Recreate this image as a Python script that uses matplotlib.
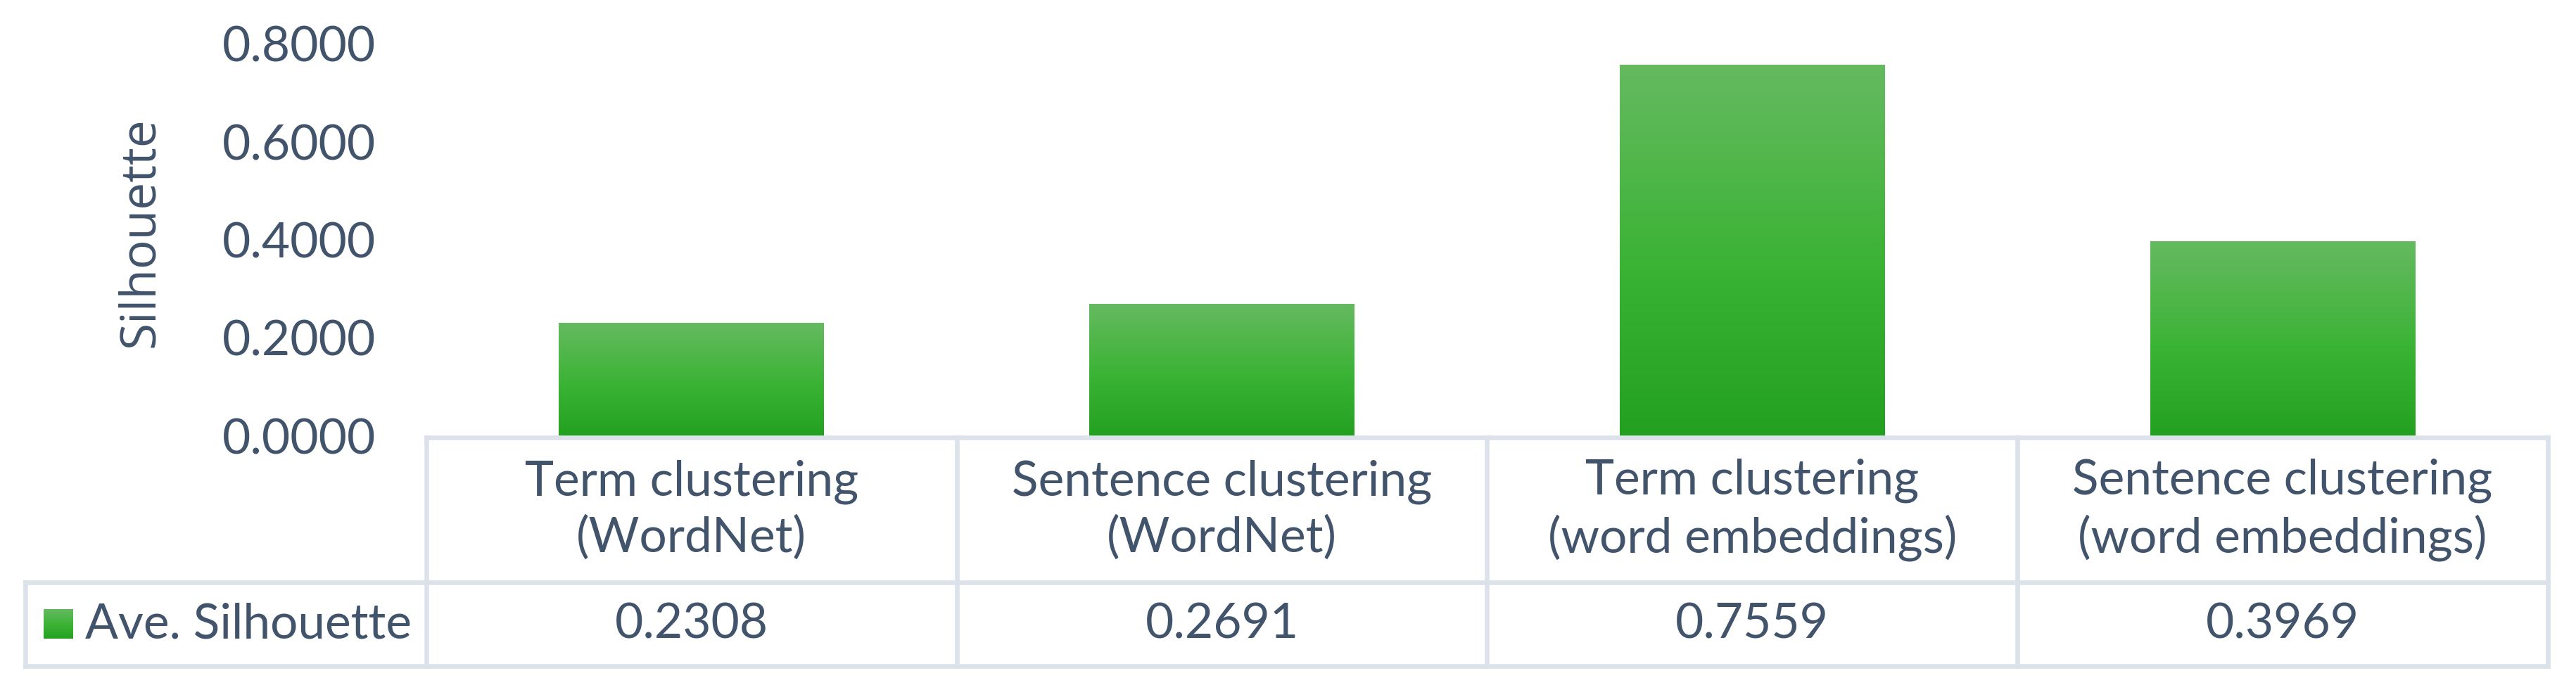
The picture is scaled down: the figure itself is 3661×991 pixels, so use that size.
import numpy as np
import matplotlib
matplotlib.use('Agg')
import matplotlib.pyplot as plt
from matplotlib.colors import LinearSegmentedColormap
from matplotlib.lines import Line2D

plt.rcParams['font.family'] = ['Lato', 'DejaVu Sans']

# data
categories = ['Term clustering\n(WordNet)', 'Sentence clustering\n(WordNet)',
              'Term clustering\n(word embeddings)', 'Sentence clustering\n(word embeddings)']
silhouette = [0.2308, 0.2691, 0.7559, 0.3969]
series_name = 'Ave. Silhouette'
yticks = [0.0, 0.2, 0.4, 0.6, 0.8]

W, H = 3662, 991
txt_color = '#41546B'
grid_color = '#DCE2E9'
fs = 50

# excel style green gradient, dark at the bottom, light at the top
cmap = LinearSegmentedColormap.from_list(
    'green_grad', [(0.0, '#24A020'), (0.45, '#3AB334'), (1.0, '#65BA60')])
grad = np.linspace(0, 1, 256).reshape(-1, 1)

fig = plt.figure(figsize=(W / 100, H / 100), dpi=100)
ax = fig.add_axes([606 / W, 1 - 620 / H, (3621 - 606) / W, (620 - 62) / H])

x = np.arange(len(silhouette))
bars = ax.bar(x, silhouette, width=0.5, color='none', edgecolor='none')
for b in bars:
    x0, y0 = b.get_xy()
    ax.imshow(grad, extent=[x0, x0 + b.get_width(), y0, y0 + b.get_height()],
              origin='lower', aspect='auto', cmap=cmap, zorder=2)

ax.set_xlim(-0.5, len(silhouette) - 0.5)
ax.set_ylim(yticks[0], yticks[-1])
ax.set_xticks([])
ax.set_yticks(yticks)
ax.set_yticklabels(['%.4f' % v for v in yticks])
ax.tick_params(axis='y', length=0, pad=52, labelsize=fs, labelcolor=txt_color)
for s in ax.spines.values():
    s.set_visible(False)

fig.text(200 / W, 1 - 330 / H, 'Silhouette', rotation=90, ha='center', va='center',
         fontsize=fs, color=txt_color, family=['Open Sans', 'DejaVu Sans'])

# data table under the chart
def fx(v):
    # data x -> figure fraction
    px = ax.transData.transform((v, 0))[0]
    return fig.transFigure.inverted().transform((px, 0))[0]

edges = [fx(e) for e in np.arange(len(silhouette) + 1) - 0.5]
y_top, y_mid, y_bot = 1 - 622 / H, 1 - 828 / H, 1 - 947 / H
x_lab = 36 / W
lw = 4.7

def line(xs, ys):
    fig.add_artist(Line2D(xs, ys, transform=fig.transFigure, color=grid_color,
                          lw=lw, solid_capstyle='projecting', zorder=1))

line([edges[0], edges[-1]], [y_top, y_top])
line([x_lab, edges[-1]], [y_mid, y_mid])
line([x_lab, edges[-1]], [y_bot, y_bot])
line([x_lab, x_lab], [y_mid, y_bot])
for e in edges:
    line([e, e], [y_top, y_bot])

for i, (cat, val) in enumerate(zip(categories, silhouette)):
    cx = (edges[i] + edges[i + 1]) / 2
    fig.text(cx, (y_top + y_mid) / 2, cat, ha='center', va='center', fontsize=fs,
             color=txt_color, linespacing=1.3)
    fig.text(cx, (y_mid + y_bot) / 2, '%.4f' % val, ha='center', va='center',
             fontsize=fs, color=txt_color)

# legend key in the row label cell
kax = fig.add_axes([62 / W, 1 - 908 / H, 42 / W, 42 / H])
kax.imshow(grad, origin='lower', aspect='auto', cmap=cmap)
kax.axis('off')
fig.text(121 / W, (y_mid + y_bot) / 2, series_name, ha='left', va='center',
         fontsize=fs, color=txt_color)

fig.savefig('out.png', dpi=100, facecolor='white')
